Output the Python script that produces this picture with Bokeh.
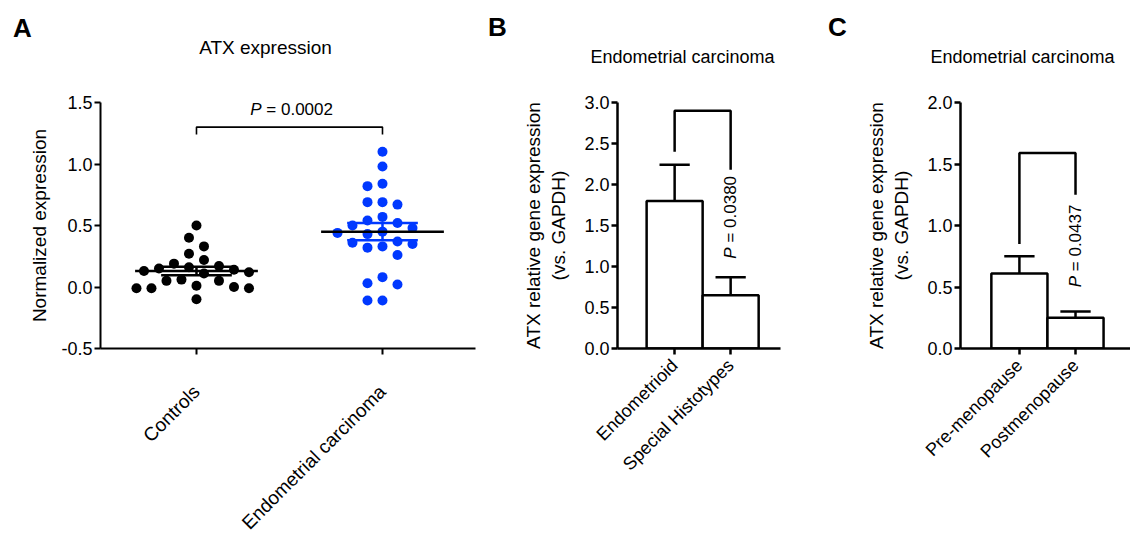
import math
from bokeh.plotting import figure
from bokeh.layouts import row, column
from bokeh.models import Range1d, FixedTicker, Label, PrintfTickFormatter
from bokeh.core.properties import value
from bokeh.embed import file_html
from bokeh.resources import INLINE

FONT = "Liberation Sans"
BLUE = "#0038ff"

# ---------------- data ----------------
groups_a = ["Controls", "Endometrial carcinoma"]
controls = [0.50, 0.40, 0.33, 0.27, 0.22, 0.19, 0.17, 0.16, 0.15, 0.14, 0.13, 0.12,
            0.11, 0.06, 0.05, 0.05, 0.01, 0.00, -0.01, -0.01, -0.01, -0.10]
carcinoma = [1.10, 0.98, 0.84, 0.82, 0.69, 0.69, 0.67, 0.57, 0.54, 0.52, 0.50, 0.48,
             0.45, 0.44, 0.43, 0.37, 0.36, 0.35, 0.33, 0.32, 0.26, 0.08, 0.03, 0.02,
             -0.11, -0.11]
mean_a = [0.13, 0.45]
sem_a = [0.035, 0.07]
p_a = "0.0002"

groups_b = ["Endometrioid", "Special Histotypes"]
mean_b = [1.80, 0.65]
sem_b = [0.44, 0.22]
p_b = "0.0380"

groups_c = ["Pre-menopause", "Postmenopause"]
mean_c = [0.61, 0.25]
sem_c = [0.14, 0.05]
p_c = "0.0437"

yticks_a = [-0.5, 0.0, 0.5, 1.0, 1.5]
yticks_b = [0.0, 0.5, 1.0, 1.5, 2.0, 2.5, 3.0]
yticks_c = [0.0, 0.5, 1.0, 1.5, 2.0]

panel_letters = ["A", "B", "C"]
panel_titles = ["ATX expression", "Endometrial carcinoma", "Endometrial carcinoma"]

HEADER_H = 90
MAIN_H = 462


def make_fig(width, height, xr, yr, left, right, top, bottom, lw):
    p = figure(width=width, height=height, x_range=Range1d(*xr), y_range=Range1d(*yr),
               output_backend="svg", toolbar_location=None,
               min_border_left=left, min_border_right=right,
               min_border_top=top, min_border_bottom=bottom)
    p.outline_line_color = None
    p.grid.visible = False
    p.background_fill_color = "white"
    p.border_fill_color = "white"
    for ax in (p.xaxis[0], p.yaxis[0]):
        ax.axis_line_width = lw
        ax.axis_line_color = "black"
        ax.major_tick_line_width = lw
        ax.major_tick_line_color = "black"
        ax.major_tick_out = 6
        ax.major_tick_in = 0
        ax.minor_tick_line_color = None
        ax.major_label_text_font = FONT
        ax.major_label_text_color = "black"
        ax.axis_label_text_font = FONT
        ax.axis_label_text_font_style = "normal"
        ax.axis_label_text_color = "black"
    return p


def setup_axes(p, yticks, groups, ylabel, ytick_size, xtick_size, xstandoff, ylabel_standoff):
    ya = p.yaxis[0]
    ya.ticker = FixedTicker(ticks=yticks)
    ya.formatter = PrintfTickFormatter(format="%.1f")
    ya.major_label_text_font_size = ytick_size
    ya.major_label_standoff = 2
    ya.axis_label = ylabel
    ya.axis_label_text_font_size = "19px"
    ya.axis_label_standoff = ylabel_standoff
    xa = p.xaxis[0]
    xa.ticker = FixedTicker(ticks=[1, 2])
    xa.major_label_overrides = {1: groups[0], 2: groups[1]}
    xa.major_label_orientation = math.pi / 4
    xa.major_label_text_font_size = xtick_size
    xa.major_label_standoff = xstandoff


def add_text(p, x, y, text, size, style="normal", align="center", angle=0.0, xoff=0):
    p.add_layout(Label(x=x, y=y, text=text, text_font=FONT, text_font_size=size,
                       text_font_style=style, text_align=align, text_baseline="middle",
                       angle=angle, x_offset=xoff, text_color="black"))


def swarm(vals, center, px_x, px_y, step=7.5, mind=13.5):
    placed = []
    xs = [0.0] * len(vals)
    cands = [0]
    for m in range(1, 40):
        cands += [-m, m]
    for i in sorted(range(len(vals)), key=lambda k: -vals[k]):
        ypx = vals[i] * px_y
        xpx = 0.0
        for c in cands:
            xpx = c * step
            if all((xpx - a) ** 2 + (ypx - b) ** 2 >= mind ** 2 for a, b in placed):
                break
        placed.append((xpx, ypx))
        xs[i] = center + xpx / px_x
    return xs


# ---------------- header strip (panel letters and titles) ----------------
ph = figure(width=1130, height=HEADER_H, x_range=Range1d(0, 1130), y_range=Range1d(HEADER_H, 0),
            output_backend="svg", toolbar_location=None, x_axis_location=None,
            y_axis_location=None, min_border=0)
ph.outline_line_color = None
ph.xgrid.visible = False
ph.ygrid.visible = False
ph.background_fill_color = "white"
ph.border_fill_color = "white"
ph.text(x=[22, 497, 837], y=[27, 26, 26], text=panel_letters, text_font=value(FONT),
        text_font_size="26px", text_font_style="bold", text_align="center",
        text_baseline="middle", text_color="black")
ph.text(x=[265], y=[47], text=panel_titles[:1], text_font=value(FONT), text_font_size="19px",
        text_align="center", text_baseline="middle", text_color="black")
ph.text(x=[682, 1022], y=[56, 56], text=panel_titles[1:], text_font=value(FONT),
        text_font_size="18px", text_align="center", text_baseline="middle", text_color="black")

# ---------------- Panel A ----------------
xr_a, yr_a = (0.484, 2.5), (-0.5, 1.5)
fw_a, fh_a = 375, 246
pa = make_fig(488, MAIN_H, xr_a, yr_a, 100, 13, 12, MAIN_H - 12 - fh_a, 2)
setup_axes(pa, yticks_a, groups_a, "Normalized expression", "18px", "19px", 34, 8)
px_x = fw_a / (xr_a[1] - xr_a[0])
px_y = fh_a / (yr_a[1] - yr_a[0])
xs_c = swarm(controls, 1, px_x, px_y)
xs_e = swarm(carcinoma, 2, px_x, px_y)
pa.scatter(xs_c, controls, size=10, color="black", line_color=None)
pa.scatter(xs_e, carcinoma, size=10, color=BLUE, line_color=None)
gx = [1, 2]
sem_cols = ["black", BLUE]
up_a = [m + s for m, s in zip(mean_a, sem_a)]
lo_a = [m - s for m, s in zip(mean_a, sem_a)]
pa.segment(x0=[g - 0.19 for g in gx], x1=[g + 0.19 for g in gx], y0=up_a, y1=up_a,
           line_color=sem_cols, line_width=2.5)
pa.segment(x0=[g - 0.19 for g in gx], x1=[g + 0.19 for g in gx], y0=lo_a, y1=lo_a,
           line_color=sem_cols, line_width=2.5)
pa.segment(x0=gx, x1=gx, y0=lo_a, y1=up_a, line_color=sem_cols, line_width=2.5)
pa.segment(x0=[g - 0.33 for g in gx], x1=[g + 0.33 for g in gx], y0=mean_a, y1=mean_a,
           line_color="black", line_width=2.5)
pa.line([1, 1, 2, 2], [1.24, 1.30, 1.30, 1.24], line_color="black", line_width=1.6)
add_text(pa, 1.35, 1.44, "P", "17px", style="italic", align="right")
add_text(pa, 1.35, 1.44, "\u00a0= " + p_a, "17px", align="left")


def bar_panel(width, left, right, fw, xr, yr, yticks, groups, means, sems, pval, bracket_y, p_y):
    fh = 248
    p = make_fig(width, MAIN_H, xr, yr, left, right, 11, MAIN_H - 11 - fh, 2.5)
    setup_axes(p, yticks, groups, "ATX relative gene expression\n(vs. GAPDH)", "18px", "18px", 8, 12)
    gx = [1, 2]
    p.vbar(x=gx, top=means, bottom=0, width=1.0, fill_color="white", line_color="black",
           line_width=2.5)
    tops = [m + s for m, s in zip(means, sems)]
    p.segment(x0=gx, x1=gx, y0=means, y1=tops, line_color="black", line_width=2.5)
    p.segment(x0=[g - 0.27 for g in gx], x1=[g + 0.27 for g in gx], y0=tops, y1=tops,
              line_color="black", line_width=2.5)
    p.line([1, 1, 2, 2], bracket_y, line_color="black", line_width=2.5)
    add_text(p, 2, p_y, "P", "17px", style="italic", align="right", angle=math.pi / 2)
    add_text(p, 2, p_y, "\u00a0= " + pval, "17px", align="left", angle=math.pi / 2)
    return p


pb = bar_panel(340, 129, 48, 163, (-0.02, 2.89), (0, 3.0), yticks_b, groups_b, mean_b, sem_b,
               p_b, [2.40, 2.90, 2.90, 2.18], 1.234)
pc = bar_panel(302, 132, 0, 170, (-0.05, 2.98), (0, 2.0), yticks_c, groups_c, mean_c, sem_c,
               p_c, [0.85, 1.59, 1.59, 1.25], 0.59)

layout = column(ph, row(pa, pb, pc))
open("out.html", "w").write(file_html(layout, INLINE))
